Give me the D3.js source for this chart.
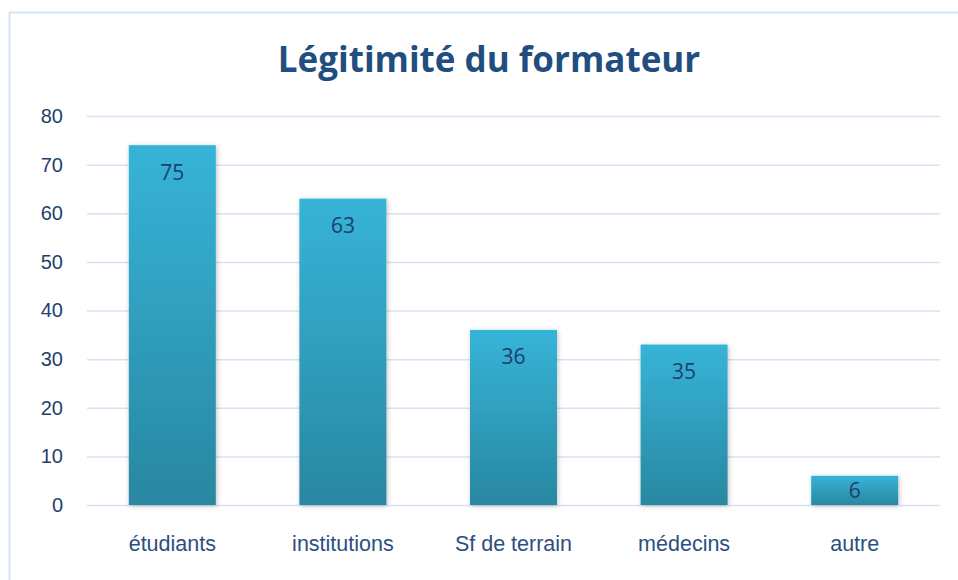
<!DOCTYPE html>
<html>
<head>
<meta charset="utf-8">
<script src="https://cdn.jsdelivr.net/npm/d3@7"></script>
<style>
  body { margin: 0; background: #fff; }
  svg { display: block; font-family: "Open Sans", "Noto Sans", sans-serif; }
</style>
</head>
<body>
<svg></svg>
<script>
var width = 958;
var height = 580;

var categories = ["étudiants", "institutions", "Sf de terrain", "médecins", "autre"];
var values = [74, 63, 36, 33, 6];          // bar heights as drawn
var labels = ["75", "63", "36", "35", "6"]; // data labels as printed
var yTicks = [0, 10, 20, 30, 40, 50, 60, 70, 80];

var margin = {top: 116, right: 18, bottom: 75, left: 87};

var svg = d3.select("svg")
    .attr("width", width)
    .attr("height", height);

var defs = svg.append("defs");
var grad = defs.append("linearGradient")
    .attr("id", "barGrad")
    .attr("x1", 0).attr("y1", 0).attr("x2", 0).attr("y2", 1);
grad.append("stop").attr("offset", "0%").attr("stop-color", "#36b4d8");
grad.append("stop").attr("offset", "100%").attr("stop-color", "#2987a1");

var shadow = defs.append("filter")
    .attr("id", "shadow")
    .attr("x", "-20%").attr("y", "-20%")
    .attr("width", "140%").attr("height", "140%");
shadow.append("feDropShadow")
    .attr("dx", 1).attr("dy", 1)
    .attr("stdDeviation", 2.5)
    .attr("flood-color", "#000")
    .attr("flood-opacity", 0.25);

// chart border
svg.append("rect")
    .attr("x", 9.5)
    .attr("y", 12.5)
    .attr("width", 1000)
    .attr("height", 1000)
    .attr("fill", "none")
    .attr("stroke", "#d6e3f4")
    .attr("stroke-width", 2);

var xScale = d3.scaleBand()
    .domain(categories)
    .range([margin.left, width - margin.right])
    .paddingInner(0.49)
    .paddingOuter(0.245);

var yScale = d3.scaleLinear()
    .domain([0, 80])
    .range([height - margin.bottom, margin.top]);

var yAxis = d3.axisLeft(yScale)
    .tickValues(yTicks)
    .tickSize(-(width - margin.left - margin.right))
    .tickPadding(24)
    .tickFormat(d3.format("d"));

var gy = svg.append("g")
    .classed("y-axis", true)
    .attr("transform", `translate(${margin.left},0)`)
    .call(yAxis);
gy.select(".domain").remove();
gy.selectAll(".tick line")
    .attr("stroke", "#d6e3f4")
    .attr("stroke-width", 1.5);
gy.selectAll(".tick text")
    .attr("fill", "#1f3f6e")
    .style("font-size", "20px");

var xAxis = d3.axisBottom(xScale)
    .tickSize(0)
    .tickPadding(31);

var gx = svg.append("g")
    .classed("x-axis", true)
    .attr("transform", `translate(0,${height - margin.bottom})`)
    .call(xAxis);
gx.select(".domain").remove();
gx.selectAll(".tick text")
    .attr("fill", "#2b4f80")
    .style("font-size", "21.5px");

svg.selectAll("rect.bar")
    .data(values)
    .enter()
    .append("rect")
    .classed("bar", true)
    .attr("x", (d, i) => xScale(categories[i]))
    .attr("y", d => yScale(d))
    .attr("width", xScale.bandwidth())
    .attr("height", d => yScale(0) - yScale(d))
    .attr("fill", "url(#barGrad)")
    .attr("filter", "url(#shadow)");

// labels sit just inside the top of each bar, centred for short bars
svg.selectAll("text.value")
    .data(values)
    .enter()
    .append("text")
    .classed("value", true)
    .attr("x", (d, i) => xScale(categories[i]) + xScale.bandwidth() / 2)
    .attr("y", d => Math.min(yScale(d) + 27, (yScale(d) + yScale(0)) / 2))
    .attr("dy", "0.35em")
    .attr("text-anchor", "middle")
    .attr("fill", "#1f3f6e")
    .style("font-size", "21px")
    .text((d, i) => labels[i]);

svg.append("text")
    .attr("x", 489)
    .attr("y", 72)
    .attr("text-anchor", "middle")
    .attr("fill", "#1f4e7f")
    .style("font-size", "35px")
    .style("font-weight", "bold")
    .text("Légitimité du formateur");
</script>
</body>
</html>
